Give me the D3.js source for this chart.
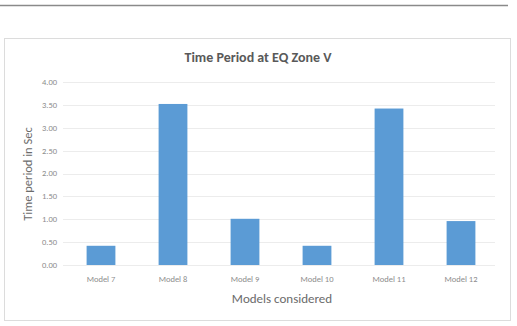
<!DOCTYPE html>
<html>
<head>
<meta charset="utf-8">
<script src="https://cdn.jsdelivr.net/npm/d3@7"></script>
<style>
  body { margin: 0; background: #fff; }
  svg { display: block; font-family: Carlito, Calibri, Lato, "Open Sans", sans-serif; }
</style>
</head>
<body>
<svg id="chart" width="517" height="326"></svg>
<script>
// data
const models = ['Model 7', 'Model 8', 'Model 9', 'Model 10', 'Model 11', 'Model 12'];
const periods = [0.42, 3.52, 1.01, 0.42, 3.42, 0.96];
const yTicks = [0, 0.5, 1, 1.5, 2, 2.5, 3, 3.5, 4];

const svg = d3.select('#chart');

// thin rule at the top of the page
svg.append('line')
  .attr('x1', 0).attr('x2', 508)
  .attr('y1', 5.5).attr('y2', 5.5)
  .attr('stroke', '#8a8a8a')
  .attr('stroke-width', 1.5);

// chart frame
svg.append('rect')
  .attr('x', 4.5).attr('y', 38.5)
  .attr('width', 506).attr('height', 282)
  .attr('fill', '#fff')
  .attr('stroke', '#dcdcdc');

const xScale = d3.scaleBand()
  .domain(models)
  .range([65, 497])
  .paddingInner(0.6)
  .paddingOuter(0.3);

const yScale = d3.scaleLinear()
  .domain([0, 4])
  .range([265, 82]);

// gridlines
svg.append('g')
  .selectAll('line')
  .data(yTicks)
  .join('line')
  .attr('x1', 63).attr('x2', 495)
  .attr('y1', d => Math.round(yScale(d)) + 0.5)
  .attr('y2', d => Math.round(yScale(d)) + 0.5)
  .attr('stroke', '#ececec');

// y tick labels
svg.append('g')
  .selectAll('text')
  .data(yTicks)
  .join('text')
  .attr('x', 57)
  .attr('y', d => yScale(d))
  .attr('dy', '0.35em')
  .attr('text-anchor', 'end')
  .attr('font-size', 8.5)
  .attr('fill', '#8c8c8c')
  .text(d => d.toFixed(2));

// bars
svg.append('g')
  .selectAll('rect')
  .data(periods)
  .join('rect')
  .attr('x', (d, i) => xScale(models[i]))
  .attr('width', xScale.bandwidth())
  .attr('y', d => yScale(d))
  .attr('height', d => yScale(0) - yScale(d))
  .attr('fill', '#5b9bd5');

// x labels
svg.append('g')
  .selectAll('text')
  .data(models)
  .join('text')
  .attr('x', d => xScale(d) + xScale.bandwidth() / 2)
  .attr('y', 279)
  .attr('dy', '0.35em')
  .attr('text-anchor', 'middle')
  .attr('font-size', 8.5)
  .attr('fill', '#8c8c8c')
  .text(d => d);

// title
svg.append('text')
  .attr('x', 258).attr('y', 57)
  .attr('dy', '0.35em')
  .attr('text-anchor', 'middle')
  .attr('font-size', 14)
  .attr('font-weight', 'bold')
  .attr('fill', '#595959')
  .text('Time Period at EQ Zone V');

// axis titles
svg.append('text')
  .attr('x', 282).attr('y', 298)
  .attr('dy', '0.35em')
  .attr('text-anchor', 'middle')
  .attr('font-size', 13)
  .attr('fill', '#6b6b6b')
  .text('Models considered');

svg.append('text')
  .attr('transform', 'translate(28,174) rotate(-90)')
  .attr('dy', '0.35em')
  .attr('text-anchor', 'middle')
  .attr('font-size', 12.5)
  .attr('fill', '#6b6b6b')
  .text('Time period in Sec');
</script>
</body>
</html>
